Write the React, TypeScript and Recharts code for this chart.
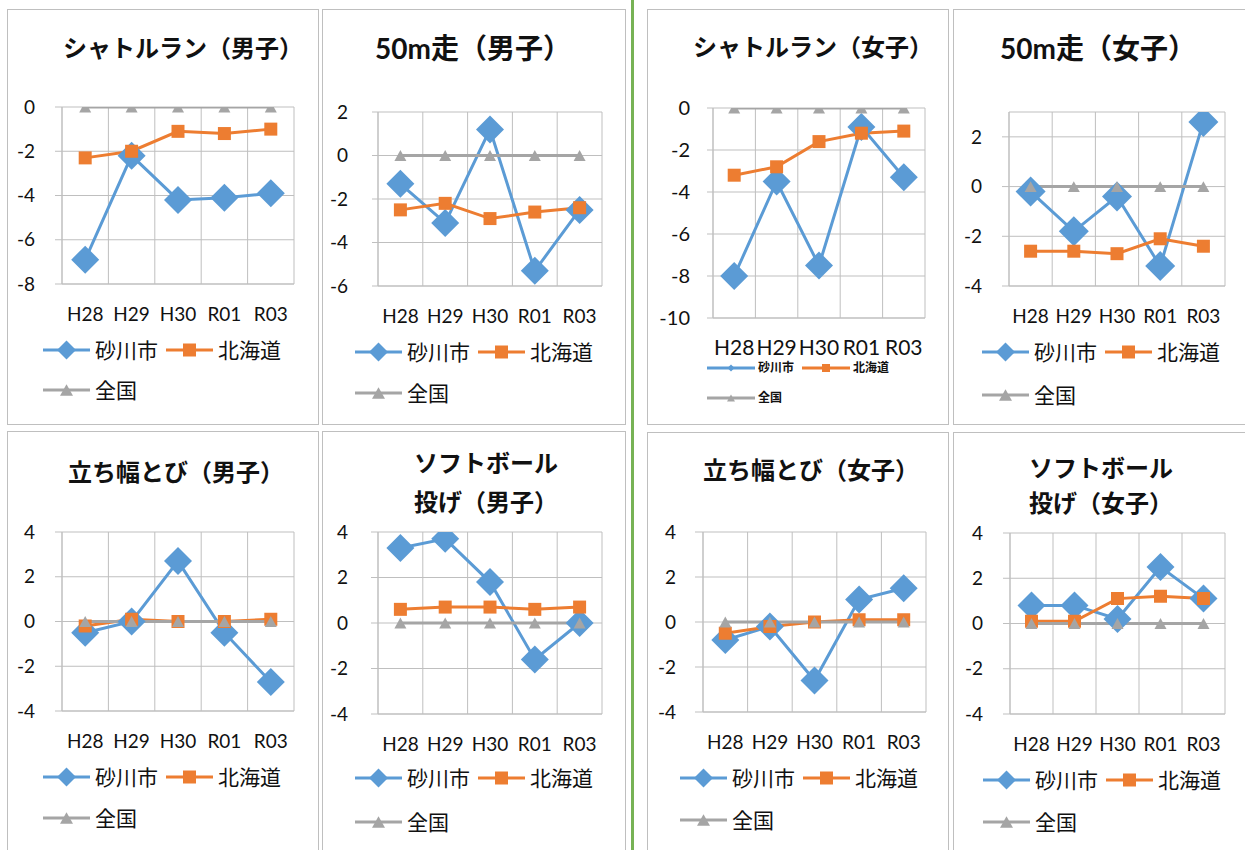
import React from "react";
import { LineChart, Line, XAxis, YAxis, CartesianGrid, Legend } from "recharts";

// ---- data ----
const categories = ["H28", "H29", "H30", "R01", "R03"];
const seriesNames = ["砂川市", "北海道", "全国"];

const shuttleMaleSunagawa = [-6.9, -2.2, -4.2, -4.1, -3.9];
const shuttleMaleHokkaido = [-2.3, -2.0, -1.1, -1.2, -1.0];
const dashMaleSunagawa = [-1.3, -3.1, 1.2, -5.3, -2.5];
const dashMaleHokkaido = [-2.5, -2.2, -2.9, -2.6, -2.4];
const shuttleFemaleSunagawa = [-8.0, -3.5, -7.5, -0.9, -3.3];
const shuttleFemaleHokkaido = [-3.2, -2.8, -1.6, -1.2, -1.1];
const dashFemaleSunagawa = [-0.2, -1.8, -0.4, -3.2, 2.6];
const dashFemaleHokkaido = [-2.6, -2.6, -2.7, -2.1, -2.4];
const jumpMaleSunagawa = [-0.5, 0.0, 2.7, -0.5, -2.7];
const jumpMaleHokkaido = [-0.2, 0.1, 0.0, 0.0, 0.1];
const throwMaleSunagawa = [3.3, 3.7, 1.8, -1.6, 0.0];
const throwMaleHokkaido = [0.6, 0.7, 0.7, 0.6, 0.7];
const jumpFemaleSunagawa = [-0.8, -0.2, -2.6, 1.0, 1.5];
const jumpFemaleHokkaido = [-0.5, -0.2, 0.0, 0.1, 0.1];
const throwFemaleSunagawa = [0.8, 0.8, 0.2, 2.5, 1.1];
const throwFemaleHokkaido = [0.1, 0.1, 1.1, 1.2, 1.1];
const nationalValues = [0, 0, 0, 0, 0];

const ticksShuttleMale = [-8, -6, -4, -2, 0];
const ticksDashMale = [-6, -4, -2, 0, 2];
const ticksShuttleFemale = [-10, -8, -6, -4, -2, 0];
const ticksDashFemale = [-4, -2, 0, 2];
const ticksPlusMinus4 = [-4, -2, 0, 2, 4];

// ---- styles ----
const BLUE = "#5B9BD5";
const ORANGE = "#ED7D31";
const GRAY = "#A5A5A5";
const GRID = "#BFBFBF";
const FONT = "Lato, 'Noto Sans CJK JP', sans-serif";
const colorOf: Record<string, string> = { 砂川市: BLUE, 北海道: ORANGE, 全国: GRAY };

type Spec = {
  title: string[];
  titleSize: number;
  titleX: number;
  titleY: number[];
  box: [number, number, number, number]; // left, top, width, height
  plot: [number, number, number, number]; // left, top, right, bottom
  sunagawa: number[];
  hokkaido: number[];
  domain: [number, number];
  ticks: number[];
  yTick: [number, number]; // tickSize, tickMargin
  tickFont: number;
  catFont: number;
  catMargin: number;
  diamond: number;
  legend: { x: number; y1: number; y2: number; font: number; small?: boolean };
};

const specs: Spec[] = [
  {
    title: ["シャトルラン（男子）"], titleSize: 24, titleX: 183, titleY: [48],
    box: [7, 9, 312, 416], plot: [62, 107, 294, 284],
    sunagawa: shuttleMaleSunagawa, hokkaido: shuttleMaleHokkaido,
    domain: [-8, 0], ticks: ticksShuttleMale, yTick: [7, 20], tickFont: 19, catFont: 19, catMargin: 24, diamond: 14,
    legend: { x: 43, y1: 350, y2: 390, font: 21 },
  },
  {
    title: ["50m走（男子）"], titleSize: 28, titleX: 473, titleY: [48],
    box: [322, 9, 304, 416], plot: [378, 112, 602, 286],
    sunagawa: dashMaleSunagawa, hokkaido: dashMaleHokkaido,
    domain: [-6, 2], ticks: ticksDashMale, yTick: [6, 24], tickFont: 19, catFont: 19, catMargin: 24, diamond: 14,
    legend: { x: 355, y1: 352, y2: 393, font: 21 },
  },
  {
    title: ["シャトルラン（女子）"], titleSize: 24, titleX: 813, titleY: [47],
    box: [647, 9, 302, 416], plot: [713, 108, 925, 318],
    sunagawa: shuttleFemaleSunagawa, hokkaido: shuttleFemaleHokkaido,
    domain: [-10, 0], ticks: ticksShuttleFemale, yTick: [6, 17], tickFont: 20, catFont: 21, catMargin: 22, diamond: 14,
    legend: { x: 707, y1: 368, y2: 398, font: 12, small: true },
  },
  {
    title: ["50m走（女子）"], titleSize: 28, titleX: 1098, titleY: [48],
    box: [953, 9, 300, 416], plot: [1009, 112, 1225, 286],
    sunagawa: dashFemaleSunagawa, hokkaido: dashFemaleHokkaido,
    domain: [-4, 3], ticks: ticksDashFemale, yTick: [7, 20], tickFont: 19, catFont: 19, catMargin: 24, diamond: 15,
    legend: { x: 982, y1: 352, y2: 395, font: 21 },
  },
  {
    title: ["立ち幅とび（男子）"], titleSize: 24, titleX: 176, titleY: [472],
    box: [7, 431, 312, 430], plot: [62, 532, 294, 711],
    sunagawa: jumpMaleSunagawa, hokkaido: jumpMaleHokkaido,
    domain: [-4, 4], ticks: ticksPlusMinus4, yTick: [7, 20], tickFont: 19, catFont: 19, catMargin: 24, diamond: 14,
    legend: { x: 43, y1: 777, y2: 818, font: 21 },
  },
  {
    title: ["ソフトボール", "投げ（男子）"], titleSize: 24, titleX: 486, titleY: [463, 502],
    box: [322, 431, 304, 430], plot: [378, 532, 602, 714],
    sunagawa: throwMaleSunagawa, hokkaido: throwMaleHokkaido,
    domain: [-4, 4], ticks: ticksPlusMinus4, yTick: [7, 23], tickFont: 19, catFont: 19, catMargin: 24, diamond: 14,
    legend: { x: 355, y1: 778, y2: 822, font: 21 },
  },
  {
    title: ["立ち幅とび（女子）"], titleSize: 24, titleX: 811, titleY: [470],
    box: [647, 432, 302, 430], plot: [703, 532, 926, 712],
    sunagawa: jumpFemaleSunagawa, hokkaido: jumpFemaleHokkaido,
    domain: [-4, 4], ticks: ticksPlusMinus4, yTick: [8, 19], tickFont: 19, catFont: 19, catMargin: 24, diamond: 14,
    legend: { x: 680, y1: 778, y2: 820, font: 21 },
  },
  {
    title: ["ソフトボール", "投げ（女子）"], titleSize: 24, titleX: 1101, titleY: [468, 503],
    box: [953, 432, 300, 430], plot: [1010, 533, 1225, 714],
    sunagawa: throwFemaleSunagawa, hokkaido: throwFemaleHokkaido,
    domain: [-4, 4], ticks: ticksPlusMinus4, yTick: [7, 20], tickFont: 19, catFont: 19, catMargin: 24, diamond: 14,
    legend: { x: 983, y1: 780, y2: 822, font: 21 },
  },
];

// ---- markers ----
function markerPath(name: string, cx: number, cy: number, scale: number) {
  if (name === "砂川市") {
    const r = scale;
    return `M${cx},${cy - r}L${cx + r},${cy}L${cx},${cy + r}L${cx - r},${cy}Z`;
  }
  if (name === "北海道") {
    const h = scale;
    return `M${cx - h},${cy - h}H${cx + h}V${cy + h}H${cx - h}Z`;
  }
  const w = scale;
  return `M${cx},${cy - w * 0.9}L${cx + w},${cy + w * 0.9}L${cx - w},${cy + w * 0.9}Z`;
}

function makeDot(name: string, size: number) {
  return (p: any) => (
    <path key={`${name}-${p.index}`} d={markerPath(name, p.cx, p.cy, size)} fill={colorOf[name]} />
  );
}

function LegendBox({ payload, spec }: { payload?: any[]; spec: Spec["legend"] }) {
  const items = (payload || [])
    .map((p) => ({ name: String(p.value), color: p.color }))
    .sort((a, b) => seriesNames.indexOf(a.name) - seriesNames.indexOf(b.name));
  const rows = [items.slice(0, 2), items.slice(2)];
  const rowH = 24;
  const lineLen = spec.small ? 48 : 47;
  const sizes: Record<string, number> = spec.small
    ? { 砂川市: 3.5, 北海道: 4, 全国: 4 }
    : { 砂川市: 9.5, 北海道: 6.5, 全国: 6.5 };
  return (
    <div style={{ fontFamily: FONT, fontSize: spec.font, color: "#111", fontWeight: spec.small ? 600 : 400 }}>
      {rows.map((row, r) => (
        <div
          key={r}
          style={{ display: "flex", alignItems: "center", height: rowH, marginTop: r ? spec.y2 - spec.y1 - rowH : 0 }}
        >
          {row.map((it) => (
            <div key={it.name} style={{ display: "flex", alignItems: "center", marginRight: 8 }}>
              <svg width={lineLen} height={rowH}>
                <line x1={0} x2={lineLen} y1={rowH / 2} y2={rowH / 2} stroke={it.color} strokeWidth={3} />
                <path d={markerPath(it.name, lineLen / 2, rowH / 2, sizes[it.name])} fill={it.color} />
              </svg>
              <span style={{ marginLeft: spec.small ? 3 : 5, lineHeight: `${rowH}px` }}>{it.name}</span>
            </div>
          ))}
        </div>
      ))}
    </div>
  );
}

function Panel({ spec }: { spec: Spec }) {
  const [bl, bt, bw, bh] = spec.box;
  const [pl, pt, pr, pb] = spec.plot;
  const ox = bl + 1;
  const oy = bt + 1;
  const w = bw - 2;
  const h = bh - 2;
  const xAxisH = 45;
  const data = categories.map((c, i) => ({
    year: c,
    s: spec.sunagawa[i],
    h: spec.hokkaido[i],
    n: nationalValues[i],
  }));
  const band = (pr - pl) / categories.length;
  return (
    <>
      <div
        style={{
          position: "absolute",
          left: bl,
          top: bt,
          width: bw - 2,
          height: bh - 2,
          border: `1px solid ${GRID}`,
          background: "#fff",
        }}
      >
        <LineChart
          width={w}
          height={h}
          data={data}
          margin={{ top: pt - oy, right: ox + w - pr, left: 0, bottom: oy + h - pb - xAxisH }}
        >
          <CartesianGrid
            stroke={GRID}
            strokeWidth={1}
            verticalCoordinatesGenerator={({ offset }: any) =>
              categories
                .map((_, i) => offset.left + (i * offset.width) / categories.length)
                .concat([offset.left + offset.width])
            }
          />
          <XAxis
            dataKey="year"
            height={xAxisH}
            padding={{ left: band / 2, right: band / 2 }}
            tickLine={false}
            tickSize={0}
            tickMargin={spec.catMargin}
            axisLine={{ stroke: GRID }}
            interval={0}
            tick={{ fontSize: spec.catFont, fill: "#111", fontFamily: FONT }}
          />
          <YAxis
            type="number"
            width={pl - ox}
            domain={spec.domain}
            ticks={spec.ticks}
            interval={0}
            allowDataOverflow
            tickSize={spec.yTick[0]}
            tickMargin={spec.yTick[1]}
            tickLine={{ stroke: GRID }}
            axisLine={{ stroke: GRID }}
            tick={{ fontSize: spec.tickFont, fill: "#111", fontFamily: FONT }}
          />
          <Legend
            layout="horizontal"
            verticalAlign="middle"
            align="center"
            wrapperStyle={{ left: spec.legend.x - ox, top: spec.legend.y1 - oy - 12, width: w - (spec.legend.x - ox) }}
            content={(props: any) => <LegendBox payload={props.payload} spec={spec.legend} />}
          />
          <Line
            dataKey="s"
            name={seriesNames[0]}
            stroke={BLUE}
            strokeWidth={3}
            dot={makeDot(seriesNames[0], spec.diamond)}
            activeDot={false}
            isAnimationActive={false}
          />
          <Line
            dataKey="h"
            name={seriesNames[1]}
            stroke={ORANGE}
            strokeWidth={3}
            dot={makeDot(seriesNames[1], 6.5)}
            activeDot={false}
            isAnimationActive={false}
          />
          <Line
            dataKey="n"
            name={seriesNames[2]}
            stroke={GRAY}
            strokeWidth={3}
            dot={makeDot(seriesNames[2], 6)}
            activeDot={false}
            isAnimationActive={false}
          />
        </LineChart>
      </div>
      {spec.title.map((t, i) => (
        <div
          key={t}
          style={{
            position: "absolute",
            left: spec.titleX - 160,
            width: 320,
            top: spec.titleY[i] - 20,
            height: 40,
            lineHeight: "40px",
            textAlign: "center",
            fontFamily: FONT,
            fontWeight: 700,
            fontSize: spec.titleSize,
            color: "#111",
            whiteSpace: "nowrap",
          }}
        >
          {t}
        </div>
      ))}
    </>
  );
}

export default function App() {
  return (
    <div
      style={{
        position: "absolute",
        left: 0,
        top: 0,
        width: 1245,
        height: 850,
        overflow: "hidden",
        background: "#fff",
      }}
    >
      {specs.map((s, i) => (
        <Panel key={i} spec={s} />
      ))}
      <div style={{ position: "absolute", left: 631, top: 0, width: 3, height: 850, background: "#77B255" }} />
    </div>
  );
}
